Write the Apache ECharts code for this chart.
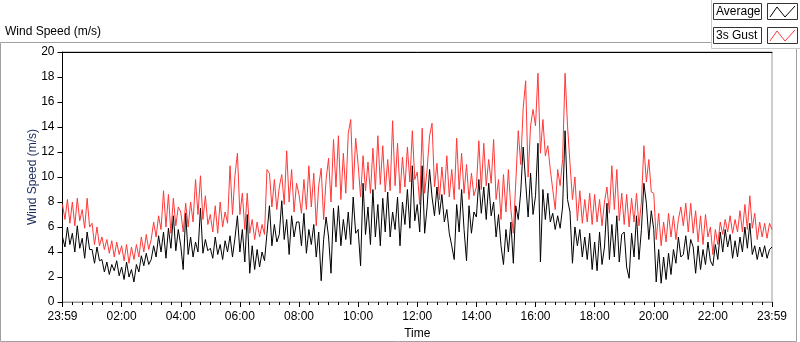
<!DOCTYPE html>
<html><head><meta charset="utf-8">
<script src="https://cdn.jsdelivr.net/npm/echarts@6/dist/echarts.min.js"></script>
<style>html,body{margin:0;padding:0;background:#fff}#c{width:800px;height:342px}</style>
</head><body><div id="c"></div>
<script>
// sample spacing in minutes (values every 5 minutes)
const stepMinutes = 5;
const xTickLabels = ['23:59','02:00','04:00','06:00','08:00','10:00','12:00','14:00','16:00','18:00','20:00','22:00','23:59'];
const yTicks = [0,2,4,6,8,10,12,14,16,18,20];
const seriesNames = ['Average','3s Gust'];

const gust = [
7.8,6.6,8.2,6.3,8.0,6.1,8.3,6.5,7.4,5.9,8.3,6.0,
6.3,4.6,6.0,4.5,5.2,4.2,5.0,3.9,4.9,3.6,4.8,3.8,
4.5,3.3,4.6,3.1,4.4,3.4,4.6,3.6,5.2,4.0,5.4,4.2,
5.0,6.4,5.2,6.9,5.8,8.9,6.0,8.6,5.5,8.3,6.1,7.6,
7.2,5.6,7.9,6.0,8.0,6.4,9.8,7.0,10.1,6.6,8.5,6.2,
7.0,5.6,7.7,5.5,8.0,6.0,7.2,6.3,10.9,7.0,10.1,11.9,
7.0,8.7,5.8,8.7,5.5,6.6,5.0,6.4,5.2,6.2,5.4,10.6,
10.3,7.6,9.8,7.4,9.2,10.2,7.8,12.1,8.0,10.6,7.2,9.5,
8.6,7.1,9.8,7.4,10.9,7.6,10.3,6.1,9.3,10.7,6.6,9.8,
11.5,8.0,13.0,9.2,13.3,8.2,11.9,8.7,13.5,14.6,9.0,13.1,
11.0,8.4,11.7,8.9,11.2,8.7,12.3,9.0,13.3,9.4,12.5,8.8,
11.4,8.9,14.5,9.3,12.7,8.7,11.6,9.2,12.4,9.6,13.7,9.8,
10.4,7.8,13.9,8.7,10.6,13.3,14.3,9.2,11.1,8.2,10.8,8.6,
11.7,8.4,10.6,8.2,13.1,9.0,11.9,8.7,11.0,8.2,10.3,8.5,
9.2,12.9,9.0,12.7,9.3,11.4,9.5,13.0,8.2,9.8,6.6,10.2,
7.2,10.6,7.4,5.5,9.6,13.7,11.0,15.5,17.7,10.0,14.1,15.4,
14.1,18.3,11.9,14.6,11.7,12.5,10.6,9.0,7.4,10.6,9.3,11.4,
18.3,14.1,11.1,8.2,10.0,6.5,8.9,6.3,8.2,6.4,8.7,6.2,
8.6,6.4,8.2,6.1,8.0,9.2,7.1,10.9,7.4,10.6,6.5,8.7,
6.2,8.6,6.0,8.3,6.4,8.7,6.1,8.0,12.5,9.6,11.4,8.8,
8.7,5.0,7.1,4.5,6.4,4.8,7.1,5.2,6.9,5.0,6.6,7.6,
6.1,7.9,5.6,7.9,5.5,7.3,4.8,6.9,4.6,7.0,5.2,6.0,
3.8,5.8,4.6,6.4,5.4,6.6,5.6,6.9,5.5,6.6,5.6,7.3,
5.6,7.8,5.8,8.5,5.9,7.1,5.0,6.4,5.2,6.3,5.1,6.3,5.8
];

const average = [
5.2,4.4,6.0,4.6,5.5,4.0,6.1,4.3,5.1,3.5,5.6,4.2,
4.2,3.1,4.4,3.3,3.4,2.4,3.2,2.2,3.0,2.5,3.3,2.1,
2.8,1.8,3.2,2.0,2.6,1.6,3.0,2.4,3.7,2.9,3.9,3.0,
3.4,4.5,3.6,5.3,4.0,5.6,3.5,5.9,4.3,6.9,4.1,5.8,
4.5,2.6,7.1,3.8,5.2,3.6,4.8,4.0,7.5,3.9,5.0,4.1,
4.3,3.5,5.2,3.8,4.6,3.4,4.9,4.0,5.3,3.6,5.1,6.9,
4.0,5.8,3.2,7.0,2.3,4.5,2.6,4.2,2.8,4.0,3.3,5.5,
7.7,4.5,6.2,4.8,5.4,8.1,5.0,6.6,3.8,6.9,5.2,6.4,
6.4,4.5,7.1,3.9,5.8,4.6,6.2,3.6,5.6,1.7,5.0,6.8,
5.2,2.3,7.5,4.8,7.7,4.5,6.6,5.0,7.2,4.6,8.4,5.5,
5.8,2.9,9.5,5.4,7.6,4.6,9.0,5.2,7.8,4.5,8.3,5.6,
8.8,5.2,7.2,5.8,8.4,4.5,8.0,6.2,9.0,5.9,10.9,6.5,
7.8,5.6,10.9,5.5,7.6,10.6,8.4,6.9,9.2,7.0,8.6,6.4,
7.4,5.5,4.5,3.4,7.8,5.6,9.0,5.8,3.3,7.7,5.5,7.2,
6.8,9.8,7.1,9.2,6.6,9.5,6.9,8.0,5.2,7.0,4.5,3.0,
5.8,4.0,6.4,3.1,7.7,6.6,8.8,12.4,9.6,6.8,10.3,7.0,
8.5,12.7,3.2,9.0,6.6,8.7,6.4,7.1,5.8,6.9,5.9,7.6,
13.7,8.2,7.2,3.1,6.0,4.5,5.8,3.6,5.2,3.4,5.5,2.6,
4.8,2.5,5.6,3.0,4.4,7.9,3.4,6.2,3.6,6.9,3.2,5.4,
5.6,2.8,1.9,5.5,3.6,6.9,3.4,5.8,9.5,7.9,5.0,7.3,
5.8,1.6,4.2,1.5,3.6,1.8,3.9,2.2,4.2,3.1,5.2,3.6,
3.8,5.3,3.4,5.0,4.4,2.3,4.5,2.6,4.2,3.0,4.8,3.3,
2.9,4.6,3.4,5.6,4.0,5.8,4.4,5.4,3.5,4.9,3.6,5.2,
4.0,6.0,4.3,6.3,3.8,4.5,3.4,4.4,3.6,4.5,3.5,4.2,4.4
];

const FONT = 'Liberation Sans';
const toXY = arr => arr.map((v, i) => [i * stepMinutes, v]);

const chart = echarts.init(document.getElementById('c'), null, {renderer: 'canvas'});
const frameGray = '#a0a0a0';
chart.setOption({
  animation: false,
  backgroundColor: '#fff',
  textStyle: {fontFamily: FONT},
  grid: {left: 62.5, right: 28, top: 52, bottom: 40, show: true, borderColor: '#9a9a9a', borderWidth: 1,
         backgroundColor: '#fff', containLabel: false, outerBoundsMode: 'none'},
  xAxis: [{
    type: 'value', min: 0, max: 1440, interval: 120,
    axisLine: {show: true, lineStyle: {color: '#9a9a9a', width: 1}},
    axisTick: {show: true, length: 5, lineStyle: {color: '#000'}},
    minorTick: {show: true, splitNumber: 6, length: 3, lineStyle: {color: '#000'}},
    splitLine: {show: false},
    axisLabel: {color: '#000', fontSize: 12, fontFamily: FONT, margin: 9,
      formatter: v => xTickLabels[Math.round(v / 120)]},
    name: 'Time', nameLocation: 'middle', nameGap: 26, nameMoveOverlap: false,
    nameTextStyle: {color: '#000', fontSize: 12, fontFamily: FONT}
  }, {
    type: 'value', min: 0, max: 1440, position: 'top',
    axisLine: {show: true, lineStyle: {color: '#000', width: 1}},
    axisTick: {show: false}, axisLabel: {show: false}, splitLine: {show: false}
  }],
  yAxis: {
    type: 'value', min: 0, max: 20, interval: 2,
    axisLine: {show: true, lineStyle: {color: '#000', width: 1}},
    axisTick: {show: true, length: 5, lineStyle: {color: '#000'}},
    splitLine: {show: false},
    axisLabel: {color: '#000', fontSize: 12, fontFamily: FONT, margin: 8,
      customValues: yTicks},
    name: 'Wind Speed (m/s)', nameLocation: 'middle', nameGap: 24, nameMoveOverlap: false,
    nameTextStyle: {color: '#1a2a5a', fontSize: 12, fontFamily: FONT}
  },
  series: [
    {name: seriesNames[1], type: 'line', data: toXY(gust), showSymbol: false,
     lineStyle: {color: '#ff3838', width: 1}, itemStyle: {color: '#ff3838'}, z: 2},
    {name: seriesNames[0], type: 'line', data: toXY(average), showSymbol: false,
     lineStyle: {color: '#000', width: 1}, itemStyle: {color: '#000'}, z: 3}
  ],
  graphic: [
    {type: 'text', left: 5, top: 26, style: {text: 'Wind Speed (m/s)', fill: '#000', font: '12px "Liberation Sans"'}},
    // outer frame
    {type: 'polyline', shape: {points: [[711.5, 42.5], [0.5, 42.5], [0.5, 341.5], [796.5, 341.5], [796.5, 48.5]]},
     style: {stroke: frameGray, fill: null, lineWidth: 1}, silent: true},
    // legend panel
    {type: 'polyline', shape: {points: [[711.5, 0], [711.5, 48.5], [800, 48.5]]},
     style: {stroke: '#c8c8c8', fill: null, lineWidth: 1}, silent: true},
    {type: 'rect', shape: {x: 713.5, y: 3.5, width: 48, height: 16}, style: {fill: '#fff', stroke: '#333', lineWidth: 1}},
    {type: 'text', x: 716, y: 11.5, style: {text: seriesNames[0], fill: '#000', font: '12px "Liberation Sans"', verticalAlign: 'middle'}},
    {type: 'rect', shape: {x: 767.5, y: 3.5, width: 30, height: 16}, style: {fill: '#fff', stroke: '#333', lineWidth: 1}},
    {type: 'polyline', shape: {points: [[770, 17], [777, 7], [785, 17], [795, 6]]}, style: {stroke: '#000', fill: null, lineWidth: 1}},
    {type: 'rect', shape: {x: 713.5, y: 27.5, width: 48, height: 16}, style: {fill: '#fff', stroke: '#333', lineWidth: 1}},
    {type: 'text', x: 716, y: 35.5, style: {text: seriesNames[1], fill: '#000', font: '12px "Liberation Sans"', verticalAlign: 'middle'}},
    {type: 'rect', shape: {x: 767.5, y: 27.5, width: 30, height: 16}, style: {fill: '#fff', stroke: '#333', lineWidth: 1}},
    {type: 'polyline', shape: {points: [[770, 41], [777, 31], [785, 41], [795, 30]]}, style: {stroke: '#ff3838', fill: null, lineWidth: 1}}
  ]
});
</script>
</body></html>
